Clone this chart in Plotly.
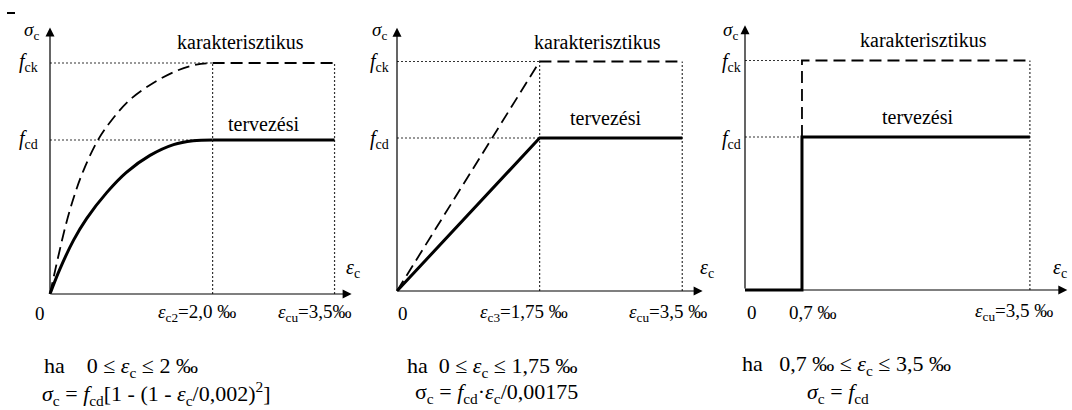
import plotly.graph_objects as go

W, H = 1072, 410
FONT = "Liberation Serif"

# Stress levels, expressed relative to the design strength f_cd
FCD = 1.0
FCK = 1.5

# Strain values in per mille
EPS_C2 = 2.0
EPS_C3 = 1.75
EPS_0 = 0.7
EPS_CU = 3.5

# Panel 1 - parabola-rectangle diagram
p1_eps_design = [0.0, 0.12, 0.29, 0.45, 0.70, 0.94, 1.23, 1.52, 1.76, 2.0]
p1_sig_design = [0.0, 0.16, 0.35, 0.49, 0.66, 0.79, 0.90, 0.97, 0.995, 1.0]
p1_eps_char = [0.0, 0.10, 0.20, 0.30, 0.41, 0.59, 0.76, 0.98, 1.27, 1.56, 1.80, 2.0]
p1_sig_char = [0.0, 0.24, 0.46, 0.64, 0.80, 1.00, 1.13, 1.26, 1.37, 1.45, 1.49, 1.5]

# Panel 2 - bilinear diagram
p2_eps_design = [0.0, 1.75, 3.5]
p2_sig_design = [0.0, 1.0, 1.0]
p2_eps_char = [0.0, 1.75, 3.5]
p2_sig_char = [0.0, 1.5, 1.5]

# Panel 3 - rectangular stress block
p3_eps_design = [0.0, 0.7, 0.7, 3.5]
p3_sig_design = [0.0, 0.0, 1.0, 1.0]
p3_eps_char = [0.7, 0.7, 3.5]
p3_sig_char = [1.0, 1.5, 1.5]

# Pixel geometry of each panel: origin, px per permille, px per f_cd, horizontal extent
geo = [
    dict(ox=50, oy=294, sx=81.3, sy=154, x0=0, x1=357, xtip=3.71, ytip=1.73),
    dict(ox=397, oy=291, sx=81.5, sy=153, x0=357, x1=712, xtip=3.75, ytip=1.72),
    dict(ox=745, oy=290, sx=81.4, sy=153, x0=712, x1=1072, xtip=3.96, ytip=1.73),
]

fig = go.Figure()
layout = dict(
    width=W, height=H, margin=dict(l=0, r=0, t=0, b=0),
    paper_bgcolor="white", plot_bgcolor="rgba(0,0,0,0)", showlegend=False,
    font=dict(family=FONT),
)
for i, g in enumerate(geo, start=1):
    xr = [(g["x0"] - g["ox"]) / g["sx"], (g["x1"] - g["ox"]) / g["sx"]]
    yr = [(g["oy"] - H) / g["sy"], g["oy"] / g["sy"]]
    sfx = "" if i == 1 else str(i)
    layout["xaxis" + sfx] = dict(domain=[g["x0"] / W, g["x1"] / W], range=xr, visible=False,
                                 fixedrange=True, anchor="y" + sfx)
    layout["yaxis" + sfx] = dict(domain=[0, 1], range=yr, visible=False,
                                 fixedrange=True, anchor="x" + sfx)
fig.update_layout(**layout)

DOT = dict(color="#333", width=1.2, dash="2px,2px")
DASH = dict(color="black", width=1.8, dash="12px,6px")
SOLID = dict(color="black", width=3)


def refs(i):
    return ("x", "y") if i == 1 else ("x%d" % i, "y%d" % i)


def guide(i, xs, ys):
    xa, ya = refs(i)
    fig.add_trace(go.Scatter(x=xs, y=ys, mode="lines", line=DOT, xaxis=xa, yaxis=ya,
                             hoverinfo="skip"))


def curve(i, xs, ys, style, shape="linear"):
    xa, ya = refs(i)
    fig.add_trace(go.Scatter(x=xs, y=ys, mode="lines", line=dict(style, shape=shape),
                             xaxis=xa, yaxis=ya, hoverinfo="skip"))


def axes_arrows(i):
    xa, ya = refs(i)
    g = geo[i - 1]
    for (x, y) in [(g["xtip"], 0), (0, g["ytip"])]:
        fig.add_annotation(x=x, y=y, ax=0, ay=0, xref=xa, yref=ya, axref=xa, ayref=ya,
                           text="", showarrow=True, arrowhead=2, arrowsize=1.5,
                           arrowwidth=1.2, arrowcolor="black", standoff=0)


def text(px, py, s, size=18, anchor="center"):
    fig.add_annotation(x=px / W, y=1 - py / H, xref="paper", yref="paper", text=s,
                       showarrow=False, xanchor=anchor, yanchor="middle",
                       font=dict(family=FONT, size=size, color="black"))


# ---- guide lines
guide(1, [0, EPS_C2], [FCK, FCK])
guide(1, [0, EPS_C2], [FCD, FCD])
guide(1, [EPS_C2, EPS_C2], [0, FCK])
guide(1, [EPS_CU, EPS_CU], [0, FCK])

guide(2, [0, EPS_C3], [FCK, FCK])
guide(2, [0, EPS_C3], [FCD, FCD])
guide(2, [EPS_C3, EPS_C3], [0, FCK])
guide(2, [EPS_CU, EPS_CU], [0, FCK])

guide(3, [0, EPS_0], [FCK, FCK])
guide(3, [0, EPS_0], [FCD, FCD])
guide(3, [EPS_CU, EPS_CU], [0, FCK])

# ---- stress-strain curves
curve(1, p1_eps_char, p1_sig_char, DASH, "spline")
curve(1, [EPS_C2, EPS_CU], [FCK, FCK], DASH)
curve(1, p1_eps_design, p1_sig_design, SOLID, "spline")
curve(1, [EPS_C2, EPS_CU], [FCD, FCD], SOLID)

curve(2, p2_eps_char, p2_sig_char, DASH)
curve(2, p2_eps_design, p2_sig_design, SOLID)

curve(3, p3_eps_char, p3_sig_char, DASH)
curve(3, p3_eps_design, p3_sig_design, SOLID)

for i in (1, 2, 3):
    axes_arrows(i)

# small mark in the top-left corner
fig.add_shape(type="line", xref="paper", yref="paper", x0=7 / W, x1=15 / W,
              y0=1 - 13 / H, y1=1 - 13 / H, line=dict(color="black", width=2))

# ---- axis captions
SIG = "σ<sub>c</sub>"
SIG_I = "<i>σ</i><sub>c</sub>"
EPS = "<i>ε</i><sub>c</sub>"
FCK_T = "<i>f</i><sub>ck</sub>"
FCD_T = "<i>f</i><sub>cd</sub>"
SP = "&nbsp;"
LE = SP + "≤" + SP

for (sx, fx, ex, ey) in [(31, 29, 353, 268), (379, 379, 707, 268), (730, 731, 1060, 268)]:
    text(sx, 31, SIG_I, 19)
    text(fx, 62, FCK_T, 20)
    text(fx, 139, FCD_T, 20)
    text(ex, ey, EPS, 20)

text(240, 42, "karakterisztikus", 20)
text(264, 124, "tervezési", 20)
text(597, 42, "karakterisztikus", 20)
text(606, 118, "tervezési", 20)
text(923, 40, "karakterisztikus", 20)
text(918, 117, "tervezési", 20)

# ---- tick labels
TS = 19
text(40, 313, "0", TS)
text(197, 313, "<i>ε</i><sub>c2</sub>=2,0 ‰", TS)
text(315, 313, "<i>ε</i><sub>cu</sub>=3,5‰", TS)
text(403, 313, "0", TS)
text(524, 313, "<i>ε</i><sub>c3</sub>=1,75 ‰", TS)
text(668, 313, "<i>ε</i><sub>cu</sub>=3,5 ‰", TS)
text(752, 312, "0", TS)
text(813, 312, "0,7 ‰", TS)
text(1014, 312, "<i>ε</i><sub>cu</sub>=3,5 ‰", TS)

# ---- formulas
FS = 22
text(42, 367, "ha" + SP * 4 + "0" + LE + EPS + LE + "2 ‰", FS, "left")
text(40, 393, SIG_I + " = " + FCD_T + "[1 - (1 - " + EPS + "/0,002)<sup>2</sup>]", FS, "left")
text(405, 367, "ha" + SP * 2 + "0" + LE + EPS + LE + "1,75 ‰", FS, "left")
text(413, 393, SIG + " = " + FCD_T + "·" + EPS + "/0,00175", FS, "left")
text(740, 365, "ha" + SP * 3 + "0,7 ‰" + LE + EPS + LE + "3,5 ‰", FS, "left")
text(805, 393, SIG_I + " = " + FCD_T, FS, "left")

fig.write_html("out.html")
